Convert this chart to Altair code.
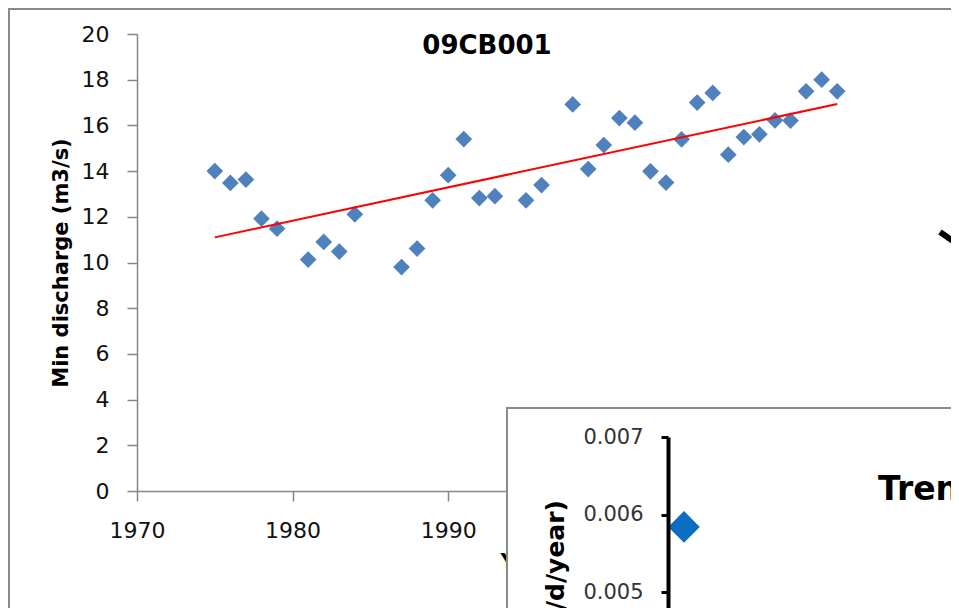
import altair as alt
import pandas as pd

# ---------------- data ----------------
years = [1975, 1976, 1977, 1978, 1979, 1981, 1982, 1983, 1984, 1987, 1988, 1989,
         1990, 1991, 1992, 1993, 1995, 1996, 1998, 1999, 2000, 2001, 2002, 2003,
         2004, 2005, 2006, 2007, 2008, 2009, 2010, 2011, 2012, 2013, 2014, 2015]
min_discharge = [14.0, 13.48, 13.63, 11.92, 11.48, 10.13, 10.90, 10.48, 12.11, 9.80,
                 10.61, 12.72, 13.82, 15.40, 12.82, 12.90, 12.72, 13.39, 16.92, 14.09,
                 15.14, 16.32, 16.12, 13.99, 13.50, 15.39, 17.00, 17.42, 14.72, 15.49,
                 15.61, 16.22, 16.21, 17.49, 18.00, 17.49]
x_ticks = [1970, 1980, 1990, 2000, 2010, 2020]
y_ticks = [0, 2, 4, 6, 8, 10, 12, 14, 16, 18, 20]
chart_title = ["09CB001"]

# inset (partially visible second chart)
inset_index = [1]
inset_trend = [0.00584]
inset_ticks = [0.004, 0.005, 0.006, 0.007]
inset_title = ["Trend"]
inset_ytitle = ["Trend (mm/d/year)"]

FONT = "DejaVu Sans"

main_df = pd.DataFrame({"year": years, "value": min_discharge})

xs = alt.Scale(domain=[1970, 2020], nice=False, zero=False)
ys = alt.Scale(domain=[0, 20], nice=False)

x_axis = alt.Axis(values=x_ticks, format="d", title="Year", grid=False, labelFlush=False,
                  labelFont=FONT, labelFontSize=22, labelColor="#111111", labelPadding=19,
                  tickSize=10, tickColor="#868686", tickWidth=1.5,
                  domainColor="#868686", domainWidth=1.5,
                  titleFont=FONT, titleFontSize=21, titleFontWeight="bold",
                  titleColor="#000000", titlePadding=10)
y_axis = alt.Axis(values=y_ticks, title="Min discharge (m3/s)", grid=False, labelFlush=False,
                  labelFont=FONT, labelFontSize=22, labelColor="#111111", labelPadding=18,
                  tickSize=10, tickColor="#868686", tickWidth=1.5,
                  domainColor="#868686", domainWidth=1.5,
                  titleFont=FONT, titleFontSize=21, titleFontWeight="bold",
                  titleColor="#000000", titlePadding=10)

one = pd.DataFrame({"k": [0]})

border = alt.Chart(one).mark_rect(fillOpacity=0, stroke="#8a8a8a", strokeWidth=2).encode(
    x=alt.value(-128), x2=alt.value(830), y=alt.value(-25), y2=alt.value(620))

points = alt.Chart(main_df).mark_point(shape="diamond", filled=True, size=280,
                                       color="#4F81BD", opacity=1, strokeWidth=0).encode(
    x=alt.X("year:Q", scale=xs, axis=x_axis),
    y=alt.Y("value:Q", scale=ys, axis=y_axis))

trend = alt.Chart(main_df).transform_regression("year", "value").mark_line(
    color="#FF0000", strokeWidth=2).encode(
    x=alt.X("year:Q", scale=xs, axis=x_axis),
    y=alt.Y("value:Q", scale=ys, axis=y_axis))

title_df = pd.DataFrame({"t": chart_title})
title = alt.Chart(title_df).mark_text(font=FONT, fontSize=26, fontWeight="bold",
                                      color="#000000", align="center",
                                      baseline="alphabetic").encode(
    text="t:N", x=alt.value(350), y=alt.value(19.5))

slash = alt.Chart(one).mark_rule(color="#000000", strokeWidth=6).encode(
    x=alt.value(803), x2=alt.value(822), y=alt.value(198), y2=alt.value(211))

main_layer = alt.layer(border, points, trend, title, slash)

# ---------------- inset ----------------
inset_df = pd.DataFrame({"idx": inset_index, "trend": inset_trend})

inset_rect = alt.Chart(one).mark_rect(fill="#FFFFFF", stroke="#8a8a8a", strokeWidth=2).encode(
    x=alt.value(370), x2=alt.value(840), y=alt.value(374), y2=alt.value(640))

inset_y_axis = alt.Axis(orient="left", offset=-531, values=inset_ticks, format=".3f",
                        grid=False, title=None, zindex=2, labelFlush=False,
                        domainColor="#000000", domainWidth=4,
                        tickColor="#000000", tickWidth=3, tickSize=7,
                        labelFont=FONT, labelFontSize=21, labelColor="#333333",
                        labelPadding=18)

inset_pt = alt.Chart(inset_df).mark_point(shape="diamond", filled=True, size=1000,
                                          color="#0B6EC3", opacity=1, strokeWidth=0).encode(
    x=alt.X("idx:Q", scale=alt.Scale(domain=[0, 20], range=[531, 851], nice=False), axis=None),
    y=alt.Y("trend:Q", scale=alt.Scale(domain=[0.004, 0.007], range=[635.5, 403],
                                       nice=False, zero=False),
            axis=inset_y_axis))

tren = alt.Chart(pd.DataFrame({"t": inset_title})).mark_text(
    font=FONT, fontSize=33, fontWeight="bold", color="#000000",
    align="left", baseline="alphabetic").encode(
    text="t:N", x=alt.value(741), y=alt.value(466))

inset_yt = alt.Chart(pd.DataFrame({"t": inset_ytitle})).mark_text(
    font=FONT, fontSize=25, fontWeight="bold", color="#000000",
    align="right", baseline="alphabetic", angle=270).encode(
    text="t:N", x=alt.value(427), y=alt.value(466))

inset_layer = alt.layer(inset_rect, inset_pt, tren, inset_yt)

chart = alt.layer(main_layer, inset_layer).resolve_scale(
    x="independent", y="independent"
).properties(
    width=778, height=457,
    padding={"left": 129, "top": 26, "right": 36, "bottom": 117},
    autosize=alt.AutoSizeParams(type="none"),
    background="#FFFFFF"
).configure_view(strokeWidth=0)

chart.save("out.html", embed_options={"renderer": "svg", "actions": False})
